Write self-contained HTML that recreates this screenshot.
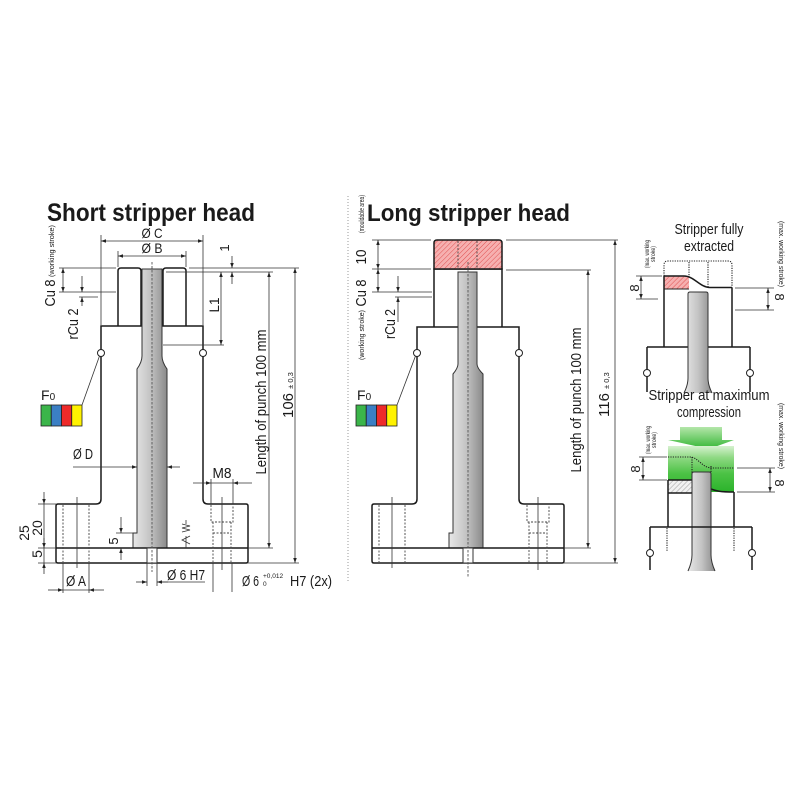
<!DOCTYPE html>
<html><head><meta charset="utf-8"><style>
html,body{margin:0;padding:0;background:#fff;}
svg{display:block;}
text{font-family:"Liberation Sans",Arial,sans-serif;fill:#1a1a1a;}
.o{stroke:#1a1a1a;stroke-width:1.5;fill:none;}
.d{stroke:#333;stroke-width:0.8;fill:none;}
.dm{stroke:#333;stroke-width:0.8;fill:none;marker-start:url(#ar);marker-end:url(#ar);}
.de{stroke:#333;stroke-width:0.8;fill:none;marker-end:url(#ar);}
.ds{stroke:#444;stroke-width:0.9;fill:none;stroke-dasharray:2 1.5;}
.dt{stroke:#222;stroke-width:1.1;fill:none;stroke-dasharray:1.2 1.2;}
.cl{stroke:#555;stroke-width:0.9;fill:none;stroke-dasharray:2.5 1.5;}
</style></head><body>
<svg width="800" height="800" viewBox="0 0 800 800" xmlns="http://www.w3.org/2000/svg">
<defs>
<marker id="ar" viewBox="0 0 10 10" refX="10" refY="5" markerWidth="6" markerHeight="5" orient="auto-start-reverse" markerUnits="userSpaceOnUse"><path d="M0,1.5 L10,5 L0,8.5 z" fill="#222"/></marker>
<linearGradient id="pg" x1="0" x2="1" y1="0" y2="0"><stop offset="0" stop-color="#e8e8e8"/><stop offset="0.5" stop-color="#c4c4c4"/><stop offset="1" stop-color="#8a8a8a"/></linearGradient>
<pattern id="hr" width="3.5" height="3.5" patternUnits="userSpaceOnUse" patternTransform="rotate(45)"><rect width="3.5" height="3.5" fill="#f6b0b0"/><line x1="0" y1="0" x2="0" y2="3.5" stroke="#e05050" stroke-width="1"/></pattern>
<pattern id="hg" width="3.5" height="3.5" patternUnits="userSpaceOnUse" patternTransform="rotate(45)"><rect width="3.5" height="3.5" fill="#f2f2f2"/><line x1="0" y1="0" x2="0" y2="3.5" stroke="#999" stroke-width="0.9"/></pattern>
<linearGradient id="gg" x1="0" x2="0" y1="0" y2="1"><stop offset="0" stop-color="#d6f1cf"/><stop offset="0.25" stop-color="#8fd984"/><stop offset="0.6" stop-color="#4cc245"/><stop offset="1" stop-color="#2bb32b"/></linearGradient>
<linearGradient id="ga" x1="0" x2="0" y1="0" y2="1"><stop offset="0" stop-color="#b4e6aa"/><stop offset="1" stop-color="#34b634"/></linearGradient>
</defs>

<!-- ============ LEFT : Short stripper head ============ -->
<text x="47" y="221" font-size="25" font-weight="bold" textLength="208" lengthAdjust="spacingAndGlyphs">Short stripper head</text>

<path class="o" fill="#fff" d="M56,506 Q56,504 58,504 H96 Q101,504 101,499 V326 H203 V499 Q203,504 208,504 H246 Q248,504 248,506 V561 Q248,563 246,563 H58 Q56,563 56,561 Z"/>
<path class="o" fill="#fff" d="M118,326 V271 Q118,268 121,268 H138 Q141,268 141,271 V326 M163,326 V271 Q163,268 166,268 H183 Q186,268 186,271 V326"/>
<path d="M142,269 H162 V356 Q162,362 167,369 V548 H133 V533 H137 V369 Q142,362 142,356 Z" fill="url(#pg)" stroke="#333" stroke-width="1"/>
<line class="o" x1="56" y1="548" x2="248" y2="548"/>
<rect x="147" y="548" width="10" height="15" fill="#fff" stroke="#333" stroke-width="1"/>
<line class="cl" x1="152" y1="262" x2="152" y2="572"/>
<circle cx="101" cy="353" r="3.5" fill="#fff" stroke="#222" stroke-width="1"/>
<circle cx="203" cy="353" r="3.5" fill="#fff" stroke="#222" stroke-width="1"/>
<line class="ds" x1="63" y1="505" x2="63" y2="562"/>
<line class="ds" x1="89" y1="505" x2="89" y2="562"/>
<line class="d" x1="77" y1="497" x2="77" y2="568"/>
<path class="ds" d="M211,505 V522 H233 V505 M213,522 V562 M231,522 V562 M213,533 H231"/>
<line class="d" x1="222" y1="497" x2="222" y2="570"/>

<line class="d" x1="101" y1="235" x2="101" y2="325"/>
<line class="d" x1="203" y1="235" x2="203" y2="325"/>
<line class="dm" x1="101" y1="241" x2="203" y2="241"/>
<line class="d" x1="118" y1="251" x2="118" y2="267"/>
<line class="d" x1="186" y1="251" x2="186" y2="267"/>
<line class="dm" x1="118" y1="256" x2="186" y2="256"/>
<text x="152" y="238" text-anchor="middle" font-size="14" textLength="21" lengthAdjust="spacingAndGlyphs">Ø C</text>
<text x="152" y="253" text-anchor="middle" font-size="14" textLength="21" lengthAdjust="spacingAndGlyphs">Ø B</text>
<line class="d" x1="189" y1="268" x2="299" y2="268"/>
<line class="d" x1="166" y1="272" x2="273" y2="272"/>
<line class="de" x1="232" y1="256" x2="232" y2="268"/>
<line class="de" x1="232" y1="284" x2="232" y2="272"/>
<text transform="translate(229,248) rotate(-90)" text-anchor="middle" font-size="13">1</text>
<line class="dm" x1="221" y1="272" x2="221" y2="345"/>
<line class="d" x1="163" y1="345" x2="224" y2="345"/>
<text transform="translate(219,305) rotate(-90)" text-anchor="middle" font-size="14" textLength="15" lengthAdjust="spacingAndGlyphs">L1</text>
<line class="dm" x1="269" y1="272" x2="269" y2="548"/>
<line class="d" x1="248" y1="548" x2="273" y2="548"/>
<line class="dm" x1="295" y1="268" x2="295" y2="563"/>
<line class="d" x1="248" y1="563" x2="299" y2="563"/>
<text transform="translate(266,402) rotate(-90)" text-anchor="middle" font-size="15" textLength="145" lengthAdjust="spacingAndGlyphs">Length of punch 100 mm</text>
<text transform="translate(293,418) rotate(-90)" font-size="15">106<tspan font-size="7.5" dx="2"> ± 0,3</tspan></text>

<line class="d" x1="59" y1="268" x2="116" y2="268"/>
<line class="d" x1="59" y1="292" x2="116" y2="292"/>
<line class="dm" x1="63" y1="268" x2="63" y2="292"/>
<line class="d" x1="79" y1="297" x2="98" y2="297"/>
<line class="de" x1="82" y1="276" x2="82" y2="292"/>
<line class="de" x1="82" y1="306" x2="82" y2="297"/>
<text transform="translate(55,293) rotate(-90)" text-anchor="middle" font-size="15" textLength="27" lengthAdjust="spacingAndGlyphs">Cu 8</text>
<text transform="translate(54,251) rotate(-90)" text-anchor="middle" font-size="7" textLength="52" lengthAdjust="spacingAndGlyphs">(working stroke)</text>
<text transform="translate(78,324) rotate(-90)" text-anchor="middle" font-size="15" textLength="31" lengthAdjust="spacingAndGlyphs">rCu 2</text>

<text x="41" y="400" font-size="14">F<tspan font-size="10">0</tspan></text>
<rect x="41" y="405" width="10.25" height="21" fill="#3bb54a" stroke="#222" stroke-width="0.8"/>
<rect x="51.25" y="405" width="10.25" height="21" fill="#3b7fc4" stroke="#222" stroke-width="0.8"/>
<rect x="61.5" y="405" width="10.25" height="21" fill="#ee2a2a" stroke="#222" stroke-width="0.8"/>
<rect x="71.75" y="405" width="10.25" height="21" fill="#fff200" stroke="#222" stroke-width="0.8"/>
<line class="d" x1="82" y1="405" x2="99.5" y2="356"/>

<text x="73" y="459" font-size="15" textLength="20" lengthAdjust="spacingAndGlyphs">Ø D</text>
<line class="de" x1="73" y1="467" x2="137" y2="467"/>
<line class="de" x1="180" y1="467" x2="167" y2="467"/>
<text x="222" y="478" text-anchor="middle" font-size="15" textLength="19" lengthAdjust="spacingAndGlyphs">M8</text>
<line class="d" x1="211" y1="479" x2="211" y2="504"/>
<line class="d" x1="233" y1="479" x2="233" y2="504"/>
<line class="d" x1="211" y1="483" x2="233" y2="483"/>
<line class="de" x1="193" y1="483" x2="211" y2="483"/>
<line class="de" x1="252" y1="483" x2="233" y2="483"/>

<line class="d" x1="38" y1="504" x2="56" y2="504"/>
<line class="d" x1="38" y1="548" x2="56" y2="548"/>
<line class="d" x1="38" y1="563" x2="56" y2="563"/>
<line class="d" x1="44" y1="504" x2="44" y2="563"/>
<line class="de" x1="44" y1="492" x2="44" y2="504"/>
<line class="de" x1="44" y1="574" x2="44" y2="563"/>
<line class="de" x1="44" y1="538" x2="44" y2="548"/>
<text transform="translate(29,533) rotate(-90)" text-anchor="middle" font-size="14">25</text>
<text transform="translate(42,528) rotate(-90)" text-anchor="middle" font-size="14">20</text>
<text transform="translate(42,554) rotate(-90)" text-anchor="middle" font-size="14">5</text>
<line class="d" x1="116" y1="533" x2="137" y2="533"/>
<line class="de" x1="121" y1="517" x2="121" y2="533"/>
<line class="de" x1="121" y1="560" x2="121" y2="548"/>
<text transform="translate(118,541) rotate(-90)" text-anchor="middle" font-size="13">5</text>
<path class="d" stroke-width="1" d="M186,548 V536 M190,536 L182,540 L190,544 M182,524 L190,526 L182,528 L190,530 L182,532 M186,520 V524"/>

<line class="d" x1="63" y1="563" x2="63" y2="593"/>
<line class="d" x1="89" y1="563" x2="89" y2="593"/>
<line class="de" x1="48" y1="590" x2="63" y2="590"/>
<line class="d" x1="63" y1="590" x2="89" y2="590"/>
<line class="de" x1="104" y1="590" x2="89" y2="590"/>
<text x="66" y="586" font-size="15" textLength="20" lengthAdjust="spacingAndGlyphs">Ø A</text>
<line class="d" x1="147" y1="563" x2="147" y2="586"/>
<line class="d" x1="157" y1="563" x2="157" y2="586"/>
<line class="de" x1="136" y1="582" x2="147" y2="582"/>
<line class="d" x1="157" y1="582" x2="205" y2="582"/>
<line class="de" x1="168" y1="582" x2="157" y2="582"/>
<text x="167" y="580" font-size="15" textLength="38" lengthAdjust="spacingAndGlyphs">Ø 6 H7</text>
<line class="d" x1="213" y1="563" x2="213" y2="592"/>
<line class="d" x1="232" y1="563" x2="232" y2="592"/>
<text x="242" y="586" font-size="15" textLength="17" lengthAdjust="spacingAndGlyphs">Ø 6</text>
<text x="263" y="578" font-size="6.5">+0,012</text>
<text x="263" y="586" font-size="6.5">0</text>
<text x="290" y="586" font-size="15" textLength="42" lengthAdjust="spacingAndGlyphs">H7 (2x)</text>

<line x1="348" y1="196" x2="348" y2="582" stroke="#999" stroke-width="1" stroke-dasharray="1 2"/>

<!-- ============ MIDDLE : Long stripper head ============ -->
<text x="367" y="221" font-size="24" font-weight="bold" textLength="203" lengthAdjust="spacingAndGlyphs">Long stripper head</text>

<path class="o" fill="#fff" d="M372,506 Q372,504 374,504 H412 Q417,504 417,499 V327 H519 V499 Q519,504 524,504 H562 Q564,504 564,506 V561 Q564,563 562,563 H374 Q372,563 372,561 Z"/>
<path class="o" fill="#fff" d="M434,327 V269 H502 V327"/>
<path d="M434,269 V243 Q434,240 437,240 H499 Q502,240 502,243 V269 Z" fill="url(#hr)" stroke="#1a1a1a" stroke-width="1.5"/>
<line class="ds" x1="458" y1="241" x2="458" y2="269"/>
<line class="ds" x1="477" y1="241" x2="477" y2="269"/>
<path d="M458,272 H477 V364 Q477,368 483,374 V548 H449 V533 H453 V374 Q458,368 458,364 Z" fill="url(#pg)" stroke="#333" stroke-width="1"/>
<line class="o" x1="372" y1="548" x2="564" y2="548"/>
<rect x="463" y="548" width="10" height="15" fill="#fff" stroke="#333" stroke-width="1"/>
<line class="cl" x1="468" y1="262" x2="468" y2="578"/>
<circle cx="417" cy="353" r="3.5" fill="#fff" stroke="#222" stroke-width="1"/>
<circle cx="519" cy="353" r="3.5" fill="#fff" stroke="#222" stroke-width="1"/>
<line class="ds" x1="379" y1="505" x2="379" y2="562"/>
<line class="ds" x1="405" y1="505" x2="405" y2="562"/>
<line class="d" x1="392" y1="497" x2="392" y2="568"/>
<path class="ds" d="M527,505 V522 H549 V505 M529,522 V562 M547,522 V562 M529,533 H547"/>
<line class="d" x1="538" y1="497" x2="538" y2="570"/>

<line class="d" x1="372" y1="240" x2="431" y2="240"/>
<line class="d" x1="372" y1="269" x2="431" y2="269"/>
<line class="d" x1="372" y1="292" x2="432" y2="292"/>
<line class="d" x1="395" y1="297" x2="432" y2="297"/>
<line class="dm" x1="378" y1="240" x2="378" y2="269"/>
<line class="dm" x1="378" y1="269" x2="378" y2="292"/>
<line class="de" x1="398" y1="276" x2="398" y2="292"/>
<line class="de" x1="398" y1="322" x2="398" y2="297"/>
<text transform="translate(366,257) rotate(-90)" text-anchor="middle" font-size="15" textLength="15" lengthAdjust="spacingAndGlyphs">10</text>
<text transform="translate(366,293) rotate(-90)" text-anchor="middle" font-size="15" textLength="27" lengthAdjust="spacingAndGlyphs">Cu 8</text>
<text transform="translate(364,214) rotate(-90)" text-anchor="middle" font-size="7" textLength="38" lengthAdjust="spacingAndGlyphs">(mouldable area)</text>
<text transform="translate(364,335) rotate(-90)" text-anchor="middle" font-size="7" textLength="50" lengthAdjust="spacingAndGlyphs">(working stroke)</text>
<text transform="translate(395,324) rotate(-90)" text-anchor="middle" font-size="15" textLength="30" lengthAdjust="spacingAndGlyphs">rCu 2</text>

<line class="d" x1="506" y1="240" x2="618" y2="240"/>
<line class="d" x1="506" y1="270" x2="591" y2="270"/>
<line class="dm" x1="588" y1="270" x2="588" y2="548"/>
<line class="d" x1="564" y1="548" x2="591" y2="548"/>
<line class="dm" x1="615" y1="240" x2="615" y2="563"/>
<line class="d" x1="564" y1="563" x2="618" y2="563"/>
<text transform="translate(581,400) rotate(-90)" text-anchor="middle" font-size="15" textLength="145" lengthAdjust="spacingAndGlyphs">Length of punch 100 mm</text>
<text transform="translate(609,417) rotate(-90)" font-size="15">116<tspan font-size="7.5" dx="2"> ± 0,3</tspan></text>

<text x="357" y="400" font-size="14">F<tspan font-size="10">0</tspan></text>
<rect x="356" y="405" width="10.25" height="21" fill="#3bb54a" stroke="#222" stroke-width="0.8"/>
<rect x="366.25" y="405" width="10.25" height="21" fill="#3b7fc4" stroke="#222" stroke-width="0.8"/>
<rect x="376.5" y="405" width="10.25" height="21" fill="#ee2a2a" stroke="#222" stroke-width="0.8"/>
<rect x="386.75" y="405" width="10.25" height="21" fill="#fff200" stroke="#222" stroke-width="0.8"/>
<line class="d" x1="397" y1="405" x2="415.5" y2="356"/>

<!-- ============ RIGHT TOP ============ -->
<text x="709" y="234" text-anchor="middle" font-size="15" textLength="69" lengthAdjust="spacingAndGlyphs">Stripper fully</text>
<text x="709" y="251" text-anchor="middle" font-size="15" textLength="50" lengthAdjust="spacingAndGlyphs">extracted</text>
<path class="dt" d="M664,276 V265 Q664,261 668,261 H728 Q732,261 732,265 V288"/>
<line class="dt" x1="689" y1="262" x2="689" y2="277"/>
<line class="dt" x1="708" y1="262" x2="708" y2="287"/>
<path d="M664,276 H684 C686,276 688,276.5 689,277 V289 H664 Z" fill="url(#hr)"/>
<path class="o" d="M664,276 H684 C694,276 700,287.5 710,287.5 H732"/>
<line x1="664" y1="289" x2="689" y2="289" stroke="#222" stroke-width="1"/>
<path class="o" d="M664,276 V347 M732,288 V347 M647,347 H750 M647,347 V369.5 M750,347 V369.5 M647,376.5 V392 M750,376.5 V392"/>
<circle cx="647" cy="373" r="3.5" fill="#fff" stroke="#222" stroke-width="1"/>
<circle cx="750" cy="373" r="3.5" fill="#fff" stroke="#222" stroke-width="1"/>
<path d="M688,294 Q688,292 690,292 H706 Q708,292 708,294 V378 Q708,385 712,393 H684 Q688,385 688,378 Z" fill="url(#pg)"/>
<path d="M684,393 Q688,385 688,378 V294 Q688,292 690,292 H706 Q708,292 708,294 V378 Q708,385 712,393" fill="none" stroke="#333" stroke-width="1"/>
<line class="d" x1="636" y1="276" x2="662" y2="276"/>
<line class="d" x1="636" y1="299" x2="658" y2="299"/>
<line class="dm" x1="641" y1="276" x2="641" y2="299"/>
<text transform="translate(639,288) rotate(-90)" text-anchor="middle" font-size="13">8</text>
<text transform="translate(649,254) rotate(-90)" text-anchor="middle" font-size="6.5" textLength="28" lengthAdjust="spacingAndGlyphs">(max. working</text>
<text transform="translate(655,254) rotate(-90)" text-anchor="middle" font-size="6.5" textLength="16" lengthAdjust="spacingAndGlyphs">stroke)</text>
<line class="d" x1="735" y1="288" x2="774" y2="288"/>
<line class="d" x1="735" y1="310" x2="774" y2="310"/>
<line class="dm" x1="768" y1="288" x2="768" y2="310"/>
<text transform="translate(775,297) rotate(90)" text-anchor="middle" font-size="13">8</text>
<text transform="translate(779,254) rotate(90)" text-anchor="middle" font-size="7.5" textLength="66" lengthAdjust="spacingAndGlyphs">(max. working stroke)</text>

<!-- ============ RIGHT BOTTOM ============ -->
<text x="709" y="400" text-anchor="middle" font-size="15" textLength="121" lengthAdjust="spacingAndGlyphs">Stripper at maximum</text>
<text x="709" y="417" text-anchor="middle" font-size="15" textLength="64" lengthAdjust="spacingAndGlyphs">compression</text>
<path d="M680,427 H722 V440 H734 L709,449 L668,440 H680 Z" fill="url(#ga)"/>
<rect x="668" y="446" width="66" height="46" fill="url(#gg)"/>
<path class="dt" d="M668,457 H690 C698,457 702,468 712,468 H734"/>
<line class="dt" x1="692" y1="457" x2="692" y2="480"/>
<line class="dt" x1="711" y1="466" x2="711" y2="472"/>
<rect x="668" y="480" width="24" height="13" fill="url(#hg)"/>
<path class="o" d="M668,480 H692 M668,493 H692 M711,489 C716,491 720,492 734,492"/>
<path d="M692,474 Q692,472 694,472 H709 Q711,472 711,474 V555 Q711,562 715,571 H688 Q692,562 692,555 Z" fill="url(#pg)"/>
<path d="M688,571 Q692,562 692,555 V474 Q692,472 694,472 H709 Q711,472 711,474 V555 Q711,562 715,571" fill="none" stroke="#333" stroke-width="1"/>
<path class="o" d="M668,480 V527 M734,492 V527 M650,527 H752 M650,527 V549.5 M752,527 V549.5 M650,556.5 V570 M752,556.5 V570"/>
<circle cx="650" cy="553" r="3.5" fill="#fff" stroke="#222" stroke-width="1"/>
<circle cx="752" cy="553" r="3.5" fill="#fff" stroke="#222" stroke-width="1"/>
<line class="dt" x1="667" y1="528" x2="667" y2="552"/>
<line class="dt" x1="734" y1="528" x2="734" y2="552"/>
<line class="d" x1="639" y1="457" x2="667" y2="457"/>
<line class="d" x1="639" y1="480" x2="667" y2="480"/>
<line class="dm" x1="643" y1="457" x2="643" y2="480"/>
<text transform="translate(640,469) rotate(-90)" text-anchor="middle" font-size="13">8</text>
<text transform="translate(650,440) rotate(-90)" text-anchor="middle" font-size="6.5" textLength="28" lengthAdjust="spacingAndGlyphs">(max. working</text>
<text transform="translate(656,440) rotate(-90)" text-anchor="middle" font-size="6.5" textLength="16" lengthAdjust="spacingAndGlyphs">stroke)</text>
<line class="d" x1="737" y1="468" x2="775" y2="468"/>
<line class="d" x1="737" y1="492" x2="775" y2="492"/>
<line class="dm" x1="770" y1="468" x2="770" y2="492"/>
<text transform="translate(775,483) rotate(90)" text-anchor="middle" font-size="13">8</text>
<text transform="translate(779,436) rotate(90)" text-anchor="middle" font-size="7.5" textLength="66" lengthAdjust="spacingAndGlyphs">(max. working stroke)</text>
</svg>
</body></html>
